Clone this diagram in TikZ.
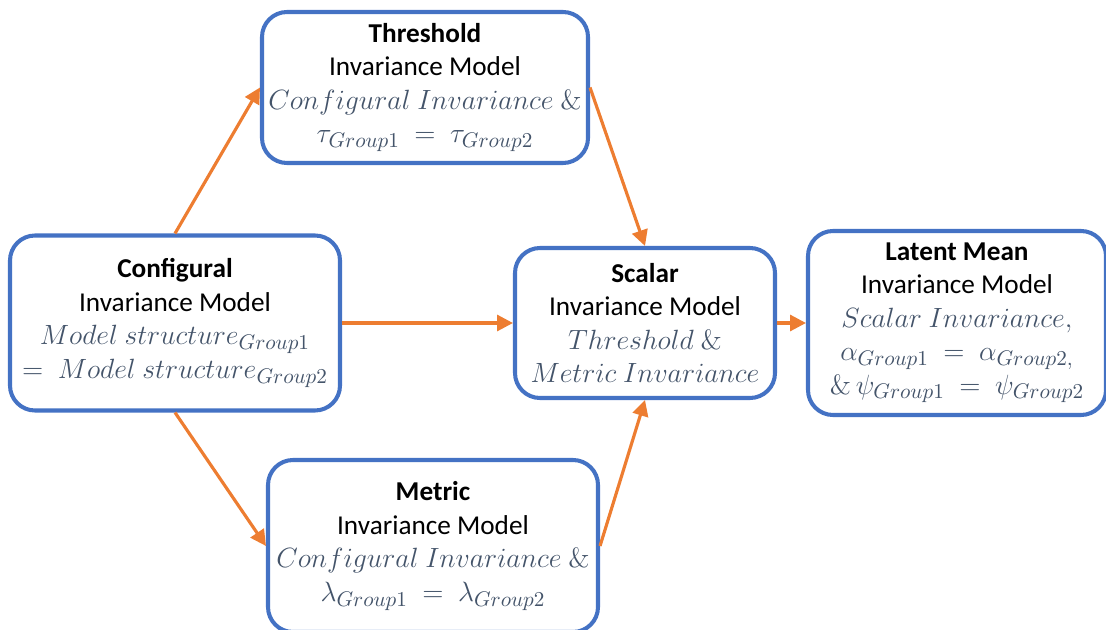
\documentclass[tikz,border=0pt]{standalone}
\usepackage[no-math]{fontspec}
\setmainfont{Carlito}
\usepackage{amsmath,amssymb}
\usepackage{tikz}
\usetikzlibrary{arrows.meta}
\definecolor{boxblue}{HTML}{4472C4}
\definecolor{arrorange}{HTML}{ED7D31}
\definecolor{mathgray}{HTML}{44546A}
\newcommand{\mq}[1]{\textcolor{mathgray}{\scalebox{1.1}{$#1$}}}

\begin{document}
\begin{tikzpicture}[font=\fontsize{15.5}{19}\selectfont,b/.style={draw=boxblue,line width=2.3pt,rounded corners=0.5cm,fill=white,align=center,inner xsep=0pt,inner ysep=2pt},a/.style={-{Triangle[length=9pt,width=9pt]},line width=1.8pt,arrorange}]
\useasboundingbox (0,0) rectangle (22.12,12.58);
\node[b,minimum width=6.52cm,minimum height=3.02cm] (t) at (8.5,10.83) {\textbf{Threshold}\\Invariance Model\\\mq{Configural\ Invariance\ \&}\\\mq{\tau_{Group1}\ =\ \tau_{Group2}}};
\node[b,minimum width=6.6cm,minimum height=3.5cm] (c) at (3.5,6.12) {\textbf{Configural}\\Invariance Model\\\mq{Model\ structure_{Group1}}\\\mq{=\ Model\ structure_{Group2}}};
\node[b,minimum width=5.2cm,minimum height=3.0cm] (s) at (12.9,6.12) {\textbf{Scalar}\\Invariance Model\\\mq{Threshold\ \&}\\\mq{Metric\ Invariance}};
\node[b,minimum width=5.96cm,minimum height=3.68cm] (l) at (19.14,6.12) {\textbf{Latent Mean}\\Invariance Model\\\mq{Scalar\ Invariance,}\\\mq{\alpha_{Group1}\ =\ \alpha_{Group2,}}\\\mq{\&\,\psi_{Group1}\ =\ \psi_{Group2}}};
\node[b,minimum width=6.6cm,minimum height=3.44cm] (m) at (8.66,1.66) {\textbf{Metric}\\Invariance Model\\\mq{Configural\ Invariance\ \&}\\\mq{\lambda_{Group1}\ =\ \lambda_{Group2}}};
\draw[a](c.north)--(t.west);
\draw[a](t.east)--(s.north);
\draw[a](c.east)--(s.west);
\draw[a](c.south)--(m.west);
\draw[a](m.east)--(s.south);
\draw[a](s.east)--(l.west);
\end{tikzpicture}
\end{document}
